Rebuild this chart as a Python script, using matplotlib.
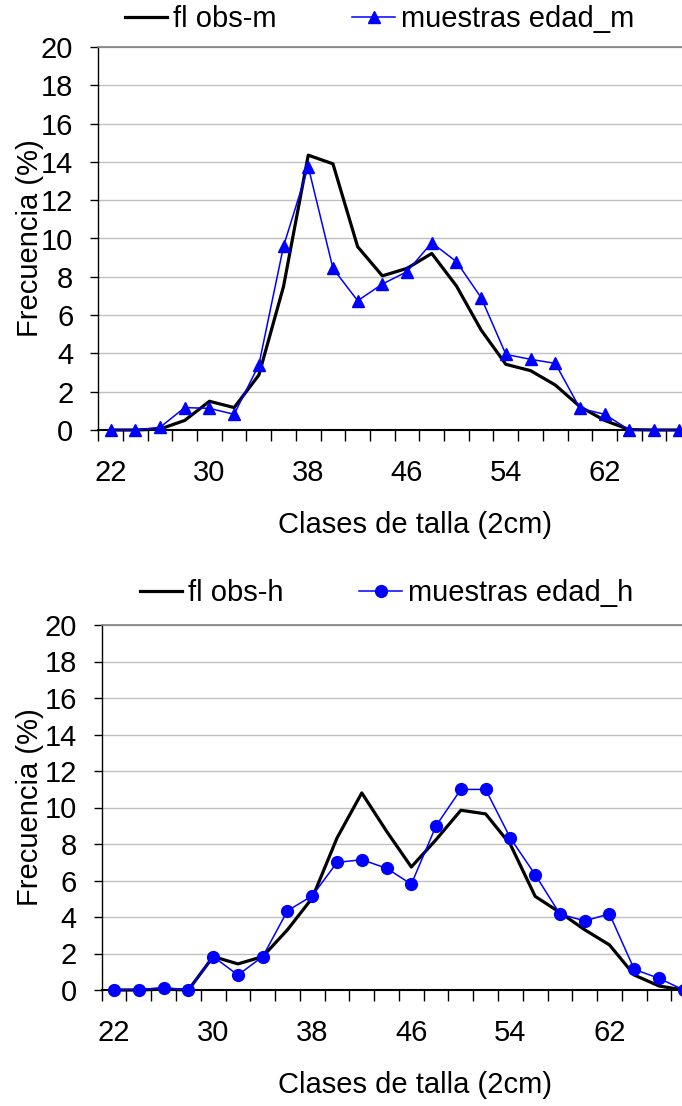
import matplotlib
matplotlib.use("Agg")
import matplotlib.pyplot as plt
from matplotlib.ticker import FixedLocator, NullFormatter

plt.rcParams['font.family'] = ['Liberation Sans', 'DejaVu Sans']

# ---------------- data ----------------
clases = [22, 24, 26, 28, 30, 32, 34, 36, 38, 40, 42, 44, 46, 48, 50, 52,
          54, 56, 58, 60, 62, 64, 66, 68]

fl_obs_m = [0, 0, 0.05, 0.5, 1.5, 1.17, 2.87, 7.5, 14.35, 13.9, 9.57, 8.05,
            8.44, 9.22, 7.52, 5.22, 3.43, 3.1, 2.35, 1.22, 0.5, 0.02, 0, 0]
muestras_m = [0, 0, 0.14, 1.17, 1.13, 0.82, 3.4, 9.6, 13.75, 8.44, 6.75, 7.62,
              8.27, 9.78, 8.79, 6.91, 3.95, 3.69, 3.48, 1.13, 0.82, 0, 0, 0]

fl_obs_h = [0, 0, 0.05, 0, 1.83, 1.43, 1.83, 3.3, 5.04, 8.33, 10.8, 8.7,
            6.74, 8.24, 9.85, 9.65, 7.97, 5.13, 4.25, 3.3, 2.47, 0.82, 0.22, 0]
muestras_h = [0.02, 0.02, 0.13, 0, 1.83, 0.82, 1.83, 4.34, 5.16, 6.99, 7.14, 6.67,
              5.8, 9.0, 10.99, 10.99, 8.32, 6.32, 4.16, 3.79, 4.17, 1.13, 0.64, 0]

yticks = [0, 2, 4, 6, 8, 10, 12, 14, 16, 18, 20]
label_every = 4
xlabel = "Clases de talla (2cm)"
ylabel = "Frecuencia (%)"

W, H = 682, 1106
fig = plt.figure(figsize=(W / 100, H / 100), dpi=100)
FS = 21


def px_axes(left, top, right, bottom):
    return [left / W, 1 - bottom / H, (right - left) / W, (bottom - top) / H]


def panel(rect, obs, mues, obs_label, mues_label, marker, ms):
    ax = fig.add_axes(rect)
    n = len(clases)
    xs = list(range(n))
    l1, = ax.plot(xs, obs, color='black', lw=2.3, label=obs_label, zorder=3, clip_on=False)
    l2, = ax.plot(xs, mues, color='#0000FF', lw=1.1, marker=marker, ms=ms,
                  markeredgecolor='#0000FF', markerfacecolor='#0000FF',
                  label=mues_label, zorder=4, clip_on=False)
    ax.set_xlim(-0.5, n - 0.5)
    ax.set_ylim(0, 20)
    ax.set_yticks(yticks)
    ax.yaxis.grid(True, color='#c0c0c0', lw=1.0)
    ax.set_axisbelow(True)
    ax.spines['right'].set_visible(False)
    ax.spines['top'].set_color('#808080')
    ax.spines['top'].set_linewidth(1.2)
    ax.spines['left'].set_color('#000000')
    ax.spines['left'].set_linewidth(1.0)
    ax.spines['bottom'].set_color('#000000')
    ax.spines['bottom'].set_linewidth(1.5)
    ax.tick_params(axis='y', direction='out', length=6, width=1, pad=12,
                   labelsize=FS, colors='black')
    ax.xaxis.set_major_locator(FixedLocator(xs[::label_every]))
    ax.set_xticklabels([str(c) for c in clases[::label_every]])
    ax.xaxis.set_minor_locator(FixedLocator([i - 0.5 for i in range(n + 1)]))
    ax.xaxis.set_minor_formatter(NullFormatter())
    ax.tick_params(axis='x', which='major', length=0, pad=21, labelsize=FS)
    ax.tick_params(axis='x', which='minor', direction='out', length=8, width=1)
    ax.set_xlabel(xlabel, fontsize=FS)
    ax.set_ylabel(ylabel, fontsize=FS)
    ax.xaxis.label.set_va('center')
    ax.yaxis.label.set_va('center')
    return ax, l1, l2


def add_legend(handles, x_px, y_px):
    fig.legend(handles=handles, loc='center left', bbox_to_anchor=(x_px / W, 1 - y_px / H),
               ncol=2, frameon=False, fontsize=FS, handlelength=1.45, handletextpad=0.2,
               columnspacing=2.6, borderpad=0, borderaxespad=0)


# top panel
tw = 24 * 24.7
axt, a1, a2 = panel(px_axes(98.3, 47, 98.3 + tw, 430), fl_obs_m, muestras_m,
                    'fl obs-m', 'muestras edad_m', '^', 8)
axt.xaxis.set_label_coords((415 - 98.3) / tw, (430 - 525) / 383)
axt.yaxis.set_label_coords((30 - 98.3) / tw, 0.5)
add_legend([a1, a2], 125, 19)

# bottom panel
bw = 24 * 24.77
axb, b1, b2 = panel(px_axes(101.7, 625, 101.7 + bw, 990), fl_obs_h, muestras_h,
                    'fl obs-h', 'muestras edad_h', 'o', 8.5)
axb.xaxis.set_label_coords((415 - 101.7) / bw, (990 - 1085) / 365)
axb.yaxis.set_label_coords((30 - 101.7) / bw, 0.5)
add_legend([b1, b2], 140, 593)

fig.savefig('out.png', dpi=100)
